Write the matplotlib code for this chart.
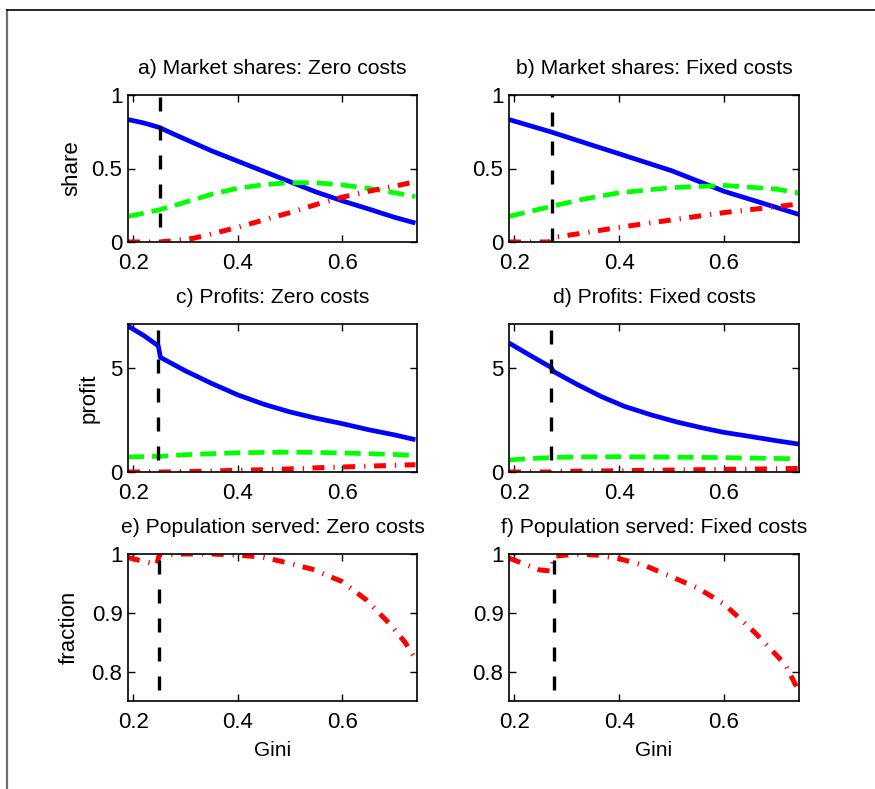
import numpy as np
import matplotlib
matplotlib.use("Agg")
import matplotlib.pyplot as plt
from matplotlib.lines import Line2D

plt.rcParams['font.family'] = ['Liberation Sans', 'DejaVu Sans']

# ---- data ----
# a) market shares, zero costs
gini_a = [0.19, 0.22, 0.25, 0.28, 0.315, 0.35, 0.4, 0.45, 0.5, 0.55, 0.6, 0.65, 0.7, 0.74]
blue_a = [0.833, 0.81, 0.779, 0.73, 0.675, 0.62, 0.55, 0.48, 0.41, 0.34, 0.28, 0.225, 0.168, 0.129]
green_a = [0.174, 0.196, 0.219, 0.25, 0.287, 0.325, 0.366, 0.39, 0.404, 0.403, 0.388, 0.365, 0.335, 0.309]
red_a = [0.0, 0.0, 0.0, 0.01, 0.025, 0.055, 0.1, 0.15, 0.2, 0.255, 0.305, 0.345, 0.38, 0.41]
cut_a, cut_a_y = 0.251, [0.1, 1.0]

# b) market shares, fixed costs
gini_b = [0.19, 0.27, 0.33, 0.4, 0.5, 0.6, 0.7, 0.745]
blue_b = [0.833, 0.749, 0.68, 0.60, 0.485, 0.345, 0.235, 0.185]
green_b = [0.174, 0.242, 0.29, 0.335, 0.37, 0.385, 0.36, 0.332]
gini_b_red = [0.19, 0.268, 0.272, 0.33, 0.4, 0.5, 0.6, 0.7, 0.745]
red_b = [0.0, 0.0, 0.03, 0.06, 0.10, 0.15, 0.20, 0.24, 0.26]
cut_b, cut_b_y = 0.272, [0.0, 1.0]

# c) profits, zero costs
gini_c = [0.19, 0.22, 0.248, 0.252, 0.3, 0.35, 0.4, 0.45, 0.5, 0.55, 0.6, 0.65, 0.7, 0.74]
blue_c = [7.0, 6.55, 6.05, 5.5, 4.85, 4.25, 3.7, 3.25, 2.88, 2.58, 2.32, 2.03, 1.78, 1.55]
green_c = [0.72, 0.74, 0.75, 0.75, 0.83, 0.88, 0.92, 0.94, 0.95, 0.94, 0.91, 0.88, 0.84, 0.8]
red_c = [0.0, 0.0, 0.0, 0.0, 0.02, 0.05, 0.08, 0.11, 0.15, 0.2, 0.24, 0.28, 0.32, 0.35]
cut_c, cut_c_y = 0.248, [0.56, 6.84]

# d) profits, fixed costs
gini_d = [0.19, 0.23, 0.27, 0.275, 0.32, 0.366, 0.41, 0.461, 0.51, 0.556, 0.6, 0.651, 0.7, 0.745]
blue_d = [6.19, 5.6, 5.02, 4.82, 4.2, 3.62, 3.15, 2.74, 2.4, 2.13, 1.9, 1.70, 1.5, 1.33]
green_d = [0.58, 0.64, 0.69, 0.70, 0.72, 0.73, 0.73, 0.72, 0.71, 0.70, 0.69, 0.67, 0.65, 0.63]
red_d = [0.0, 0.0, 0.0, 0.03, 0.04, 0.05, 0.065, 0.08, 0.095, 0.11, 0.125, 0.14, 0.155, 0.17]
cut_d, cut_d_y = 0.27, [0.56, 6.89]

# e) population served, zero costs
gini_e = [0.19, 0.245, 0.25, 0.3, 0.35, 0.4, 0.446, 0.5, 0.543, 0.6, 0.646, 0.69, 0.72, 0.74]
red_e = [0.994, 0.982, 0.999, 1.0, 1.0, 0.998, 0.995, 0.984, 0.974, 0.953, 0.922, 0.882, 0.85, 0.822]
cut_e, cut_e_y = 0.25, [0.768, 1.0]

# f) population served, fixed costs
gini_f = [0.19, 0.248, 0.27, 0.276, 0.317, 0.36, 0.4, 0.45, 0.498, 0.55, 0.6, 0.657, 0.717, 0.745]
red_f = [0.993, 0.973, 0.971, 0.996, 1.0, 0.998, 0.992, 0.98, 0.962, 0.942, 0.915, 0.868, 0.812, 0.762]
cut_f, cut_f_y = 0.276, [0.768, 1.0]

titles = ["a) Market shares: Zero costs", "b) Market shares: Fixed costs",
          "c) Profits: Zero costs", "d) Profits: Fixed costs",
          "e) Population served: Zero costs", "f) Population served: Fixed costs"]

W, H = 875, 789
fig = plt.figure(figsize=(W / 100, H / 100), dpi=100)

# axes boxes in pixels (left, top, right, bottom)
cols = [(128, 417), (509, 799)]
rows = [(95, 242), (324, 472), (554, 701)]
axes = []
for r0, r1 in rows:
    for c0, c1 in cols:
        axes.append(fig.add_axes([c0 / W, 1 - r1 / H, (c1 - c0) / W, (r1 - r0) / H]))

blue_kw = dict(color=(0, 0, 1), lw=3.4, solid_capstyle='butt')
green_kw = dict(color=(0, 1, 0), lw=3.4, dashes=(3.4, 1.7))
red_kw = dict(color=(1, 0, 0), lw=3.6, dashes=(2.4, 1.8, 0.25, 1.7))
black_kw = dict(color='k', lw=2.4, dashes=(4.2, 4.5))

ax = axes[0]
ax.plot(gini_a, blue_a, **blue_kw)
ax.plot(gini_a, green_a, **green_kw)
ax.plot(gini_a, red_a, **red_kw)
ax.plot([cut_a, cut_a], cut_a_y, **black_kw)

ax = axes[1]
ax.plot(gini_b, blue_b, **blue_kw)
ax.plot(gini_b, green_b, **green_kw)
ax.plot(gini_b_red, red_b, **red_kw)
ax.plot([cut_b, cut_b], cut_b_y, **black_kw)

ax = axes[2]
ax.plot(gini_c, blue_c, **blue_kw)
ax.plot(gini_c, green_c, **green_kw)
ax.plot(gini_c, red_c, **red_kw)
ax.plot([cut_c, cut_c], cut_c_y, **black_kw)

ax = axes[3]
ax.plot(gini_d, blue_d, **blue_kw)
ax.plot(gini_d, green_d, **green_kw)
ax.plot(gini_d, red_d, **red_kw)
ax.plot([cut_d, cut_d], cut_d_y, **black_kw)

ax = axes[4]
ax.plot(gini_e, red_e, **red_kw)
ax.plot([cut_e, cut_e], cut_e_y, **black_kw)

ax = axes[5]
ax.plot(gini_f, red_f, **red_kw)
ax.plot([cut_f, cut_f], cut_f_y, **black_kw)

for i, ax in enumerate(axes):
    ax.set_xlim(0.19, 0.743)
    ax.set_xticks([0.2, 0.4, 0.6])
    ax.set_xticklabels(["0.2", "0.4", "0.6"])
    ax.set_title(titles[i], fontsize=15.2, pad=15)
    ax.tick_params(direction='in', top=True, right=True, length=5, width=1,
                   labelsize=16)
    ax.tick_params(axis='x', pad=8)
    ax.tick_params(axis='y', pad=4)
    for s in ax.spines.values():
        s.set_linewidth(1.2)
    if i < 2:
        ax.set_ylim(0, 1)
        ax.set_yticks([0, 0.5, 1])
        ax.set_yticklabels(["0", "0.5", "1"])
    elif i < 4:
        ax.set_ylim(0, 7.1)
        ax.set_yticks([0, 5])
    else:
        ax.set_ylim(0.75, 1.0)
        ax.set_yticks([0.8, 0.9, 1.0])
        ax.set_yticklabels(["0.8", "0.9", "1"])
        ax.set_xlabel("Gini", fontsize=15)
        ax.xaxis.set_label_coords(0.5, -0.27)

axes[0].set_ylabel("share", fontsize=16)
axes[0].yaxis.set_label_coords(-0.159, 0.5)
axes[2].set_ylabel("profit", fontsize=16)
axes[2].yaxis.set_label_coords(-0.097, 0.5)
axes[4].set_ylabel("fraction", fontsize=16)
axes[4].yaxis.set_label_coords(-0.166, 0.5)

# page frame, cut by the image edge
fig.add_artist(Line2D([6.5 / W, 6.5 / W], [0, 1 - 10 / H], color='#707070', lw=1.6))
fig.add_artist(Line2D([6.5 / W, 1], [1 - 10 / H, 1 - 10 / H], color='k', lw=1.2))

fig.savefig("out.png", dpi=100)
